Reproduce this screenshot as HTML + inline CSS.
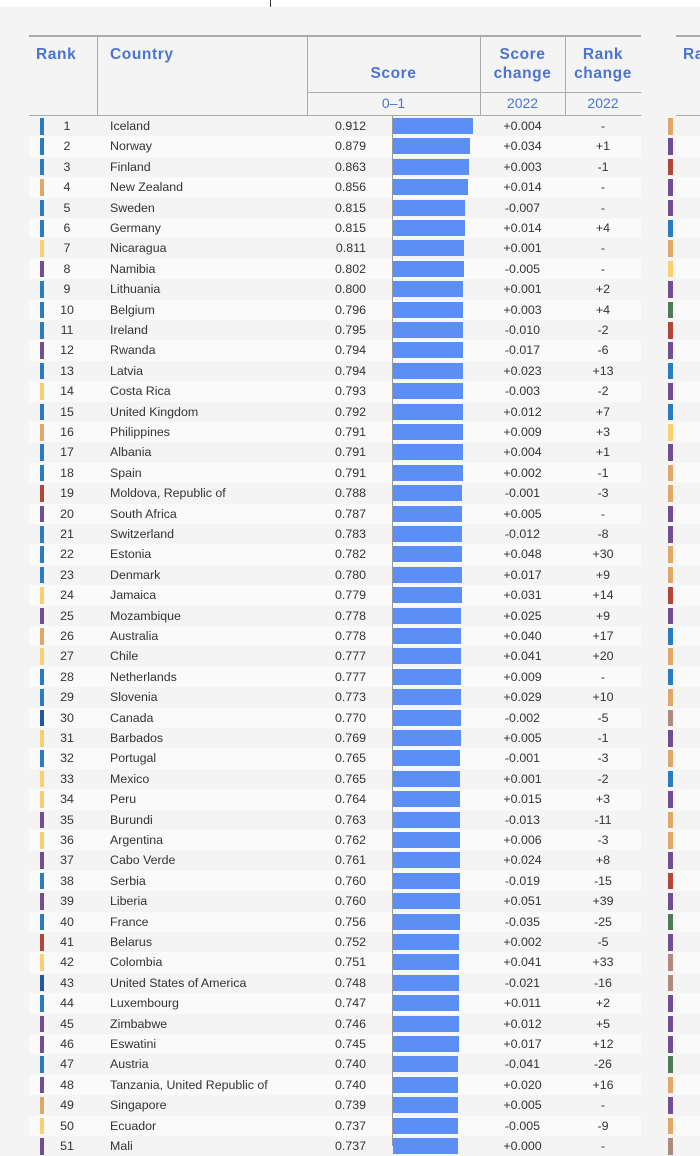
<!DOCTYPE html>
<html><head><meta charset="utf-8"><style>
body{margin:0;width:700px;height:1142px;overflow:hidden;background:#f4f4f4;font-family:"Liberation Sans",Arial,sans-serif;position:relative}
.top{position:absolute;left:0;top:0;width:700px;height:7px;background:#fff}
.tick{position:absolute;left:270px;top:0;width:1px;height:7px;background:#333}
.h{position:absolute;color:#4a74d0;font-weight:bold;font-size:15.5px;letter-spacing:.6px;line-height:19px;text-align:center}
.sh{position:absolute;color:#4a74d0;font-size:14px;top:95px;text-align:center}
.ln{position:absolute;background:#aaa}
.r{position:absolute;left:29px;width:612px;height:20.4px;font-size:12.4px;color:#333;line-height:20.4px}
.r:nth-child(even){background:#fafafa}
.r:nth-child(even)::after{content:"";position:absolute;left:647px;top:0;width:30px;height:20.4px;background:#fafafa}
.r .c{position:absolute;left:11px;top:2px;width:4px;height:16.5px}
.r .n{position:absolute;left:18px;width:40px;text-align:center}
.r .t{position:absolute;left:81px}
.r .s{position:absolute;right:275px}
.r .b{position:absolute;left:364px;top:2px;height:16px;background:#5b8ff5}
.r .d{position:absolute;left:451px;width:85px;text-align:center}
.r .k{position:absolute;left:536px;width:76px;text-align:center}
.r .x{position:absolute;left:639px;top:2px;width:5px;height:16.5px}
.axis{position:absolute;left:392px;top:116px;width:1px;height:1030px;background:#999}
</style></head><body>
<div class="top"></div><div class="tick"></div>
<div id="rows">
<div class="r" style="top:116px"><span class="c" style="background:#2a7bbf"></span><span class="n">1</span><span class="t">Iceland</span><span class="s">0.912</span><span class="b" style="width:calc(.912*88px)"></span><span class="d">+0.004</span><span class="k">-</span><span class="x" style="background:#e0a866"></span></div>
<div class="r" style="top:136.4px"><span class="c" style="background:#2a7bbf"></span><span class="n">2</span><span class="t">Norway</span><span class="s">0.879</span><span class="b" style="width:calc(.879*88px)"></span><span class="d">+0.034</span><span class="k">+1</span><span class="x" style="background:#6f4f8f"></span></div>
<div class="r" style="top:156.8px"><span class="c" style="background:#2a7bbf"></span><span class="n">3</span><span class="t">Finland</span><span class="s">0.863</span><span class="b" style="width:calc(.863*88px)"></span><span class="d">+0.003</span><span class="k">-1</span><span class="x" style="background:#b0473a"></span></div>
<div class="r" style="top:177.2px"><span class="c" style="background:#e0a866"></span><span class="n">4</span><span class="t">New Zealand</span><span class="s">0.856</span><span class="b" style="width:calc(.856*88px)"></span><span class="d">+0.014</span><span class="k">-</span><span class="x" style="background:#6f4f8f"></span></div>
<div class="r" style="top:197.6px"><span class="c" style="background:#2a7bbf"></span><span class="n">5</span><span class="t">Sweden</span><span class="s">0.815</span><span class="b" style="width:calc(.815*88px)"></span><span class="d">-0.007</span><span class="k">-</span><span class="x" style="background:#6f4f8f"></span></div>
<div class="r" style="top:218px"><span class="c" style="background:#2a7bbf"></span><span class="n">6</span><span class="t">Germany</span><span class="s">0.815</span><span class="b" style="width:calc(.815*88px)"></span><span class="d">+0.014</span><span class="k">+4</span><span class="x" style="background:#2a7bbf"></span></div>
<div class="r" style="top:238.4px"><span class="c" style="background:#f7d070"></span><span class="n">7</span><span class="t">Nicaragua</span><span class="s">0.811</span><span class="b" style="width:calc(.811*88px)"></span><span class="d">+0.001</span><span class="k">-</span><span class="x" style="background:#e0a866"></span></div>
<div class="r" style="top:258.8px"><span class="c" style="background:#6f4f8f"></span><span class="n">8</span><span class="t">Namibia</span><span class="s">0.802</span><span class="b" style="width:calc(.802*88px)"></span><span class="d">-0.005</span><span class="k">-</span><span class="x" style="background:#f7d070"></span></div>
<div class="r" style="top:279.2px"><span class="c" style="background:#2a7bbf"></span><span class="n">9</span><span class="t">Lithuania</span><span class="s">0.800</span><span class="b" style="width:calc(.800*88px)"></span><span class="d">+0.001</span><span class="k">+2</span><span class="x" style="background:#6f4f8f"></span></div>
<div class="r" style="top:299.6px"><span class="c" style="background:#2a7bbf"></span><span class="n">10</span><span class="t">Belgium</span><span class="s">0.796</span><span class="b" style="width:calc(.796*88px)"></span><span class="d">+0.003</span><span class="k">+4</span><span class="x" style="background:#4f7a5a"></span></div>
<div class="r" style="top:320px"><span class="c" style="background:#2a7bbf"></span><span class="n">11</span><span class="t">Ireland</span><span class="s">0.795</span><span class="b" style="width:calc(.795*88px)"></span><span class="d">-0.010</span><span class="k">-2</span><span class="x" style="background:#b0473a"></span></div>
<div class="r" style="top:340.4px"><span class="c" style="background:#6f4f8f"></span><span class="n">12</span><span class="t">Rwanda</span><span class="s">0.794</span><span class="b" style="width:calc(.794*88px)"></span><span class="d">-0.017</span><span class="k">-6</span><span class="x" style="background:#6f4f8f"></span></div>
<div class="r" style="top:360.8px"><span class="c" style="background:#2a7bbf"></span><span class="n">13</span><span class="t">Latvia</span><span class="s">0.794</span><span class="b" style="width:calc(.794*88px)"></span><span class="d">+0.023</span><span class="k">+13</span><span class="x" style="background:#2a7bbf"></span></div>
<div class="r" style="top:381.2px"><span class="c" style="background:#f7d070"></span><span class="n">14</span><span class="t">Costa Rica</span><span class="s">0.793</span><span class="b" style="width:calc(.793*88px)"></span><span class="d">-0.003</span><span class="k">-2</span><span class="x" style="background:#6f4f8f"></span></div>
<div class="r" style="top:401.6px"><span class="c" style="background:#2a7bbf"></span><span class="n">15</span><span class="t">United Kingdom</span><span class="s">0.792</span><span class="b" style="width:calc(.792*88px)"></span><span class="d">+0.012</span><span class="k">+7</span><span class="x" style="background:#2a7bbf"></span></div>
<div class="r" style="top:422px"><span class="c" style="background:#e0a866"></span><span class="n">16</span><span class="t">Philippines</span><span class="s">0.791</span><span class="b" style="width:calc(.791*88px)"></span><span class="d">+0.009</span><span class="k">+3</span><span class="x" style="background:#f7d070"></span></div>
<div class="r" style="top:442.4px"><span class="c" style="background:#2a7bbf"></span><span class="n">17</span><span class="t">Albania</span><span class="s">0.791</span><span class="b" style="width:calc(.791*88px)"></span><span class="d">+0.004</span><span class="k">+1</span><span class="x" style="background:#6f4f8f"></span></div>
<div class="r" style="top:462.8px"><span class="c" style="background:#2a7bbf"></span><span class="n">18</span><span class="t">Spain</span><span class="s">0.791</span><span class="b" style="width:calc(.791*88px)"></span><span class="d">+0.002</span><span class="k">-1</span><span class="x" style="background:#e0a866"></span></div>
<div class="r" style="top:483.2px"><span class="c" style="background:#b0473a"></span><span class="n">19</span><span class="t">Moldova, Republic of</span><span class="s">0.788</span><span class="b" style="width:calc(.788*88px)"></span><span class="d">-0.001</span><span class="k">-3</span><span class="x" style="background:#e0a866"></span></div>
<div class="r" style="top:503.6px"><span class="c" style="background:#6f4f8f"></span><span class="n">20</span><span class="t">South Africa</span><span class="s">0.787</span><span class="b" style="width:calc(.787*88px)"></span><span class="d">+0.005</span><span class="k">-</span><span class="x" style="background:#6f4f8f"></span></div>
<div class="r" style="top:524px"><span class="c" style="background:#2a7bbf"></span><span class="n">21</span><span class="t">Switzerland</span><span class="s">0.783</span><span class="b" style="width:calc(.783*88px)"></span><span class="d">-0.012</span><span class="k">-8</span><span class="x" style="background:#6f4f8f"></span></div>
<div class="r" style="top:544.4px"><span class="c" style="background:#2a7bbf"></span><span class="n">22</span><span class="t">Estonia</span><span class="s">0.782</span><span class="b" style="width:calc(.782*88px)"></span><span class="d">+0.048</span><span class="k">+30</span><span class="x" style="background:#e0a866"></span></div>
<div class="r" style="top:564.8px"><span class="c" style="background:#2a7bbf"></span><span class="n">23</span><span class="t">Denmark</span><span class="s">0.780</span><span class="b" style="width:calc(.780*88px)"></span><span class="d">+0.017</span><span class="k">+9</span><span class="x" style="background:#e0a866"></span></div>
<div class="r" style="top:585.2px"><span class="c" style="background:#f7d070"></span><span class="n">24</span><span class="t">Jamaica</span><span class="s">0.779</span><span class="b" style="width:calc(.779*88px)"></span><span class="d">+0.031</span><span class="k">+14</span><span class="x" style="background:#b0473a"></span></div>
<div class="r" style="top:605.6px"><span class="c" style="background:#6f4f8f"></span><span class="n">25</span><span class="t">Mozambique</span><span class="s">0.778</span><span class="b" style="width:calc(.778*88px)"></span><span class="d">+0.025</span><span class="k">+9</span><span class="x" style="background:#6f4f8f"></span></div>
<div class="r" style="top:626px"><span class="c" style="background:#e0a866"></span><span class="n">26</span><span class="t">Australia</span><span class="s">0.778</span><span class="b" style="width:calc(.778*88px)"></span><span class="d">+0.040</span><span class="k">+17</span><span class="x" style="background:#2a7bbf"></span></div>
<div class="r" style="top:646.4px"><span class="c" style="background:#f7d070"></span><span class="n">27</span><span class="t">Chile</span><span class="s">0.777</span><span class="b" style="width:calc(.777*88px)"></span><span class="d">+0.041</span><span class="k">+20</span><span class="x" style="background:#e0a866"></span></div>
<div class="r" style="top:666.8px"><span class="c" style="background:#2a7bbf"></span><span class="n">28</span><span class="t">Netherlands</span><span class="s">0.777</span><span class="b" style="width:calc(.777*88px)"></span><span class="d">+0.009</span><span class="k">-</span><span class="x" style="background:#2a7bbf"></span></div>
<div class="r" style="top:687.2px"><span class="c" style="background:#2a7bbf"></span><span class="n">29</span><span class="t">Slovenia</span><span class="s">0.773</span><span class="b" style="width:calc(.773*88px)"></span><span class="d">+0.029</span><span class="k">+10</span><span class="x" style="background:#e0a866"></span></div>
<div class="r" style="top:707.6px"><span class="c" style="background:#1f5aa0"></span><span class="n">30</span><span class="t">Canada</span><span class="s">0.770</span><span class="b" style="width:calc(.770*88px)"></span><span class="d">-0.002</span><span class="k">-5</span><span class="x" style="background:#b08a80"></span></div>
<div class="r" style="top:728px"><span class="c" style="background:#f7d070"></span><span class="n">31</span><span class="t">Barbados</span><span class="s">0.769</span><span class="b" style="width:calc(.769*88px)"></span><span class="d">+0.005</span><span class="k">-1</span><span class="x" style="background:#6f4f8f"></span></div>
<div class="r" style="top:748.4px"><span class="c" style="background:#2a7bbf"></span><span class="n">32</span><span class="t">Portugal</span><span class="s">0.765</span><span class="b" style="width:calc(.765*88px)"></span><span class="d">-0.001</span><span class="k">-3</span><span class="x" style="background:#e0a866"></span></div>
<div class="r" style="top:768.8px"><span class="c" style="background:#f7d070"></span><span class="n">33</span><span class="t">Mexico</span><span class="s">0.765</span><span class="b" style="width:calc(.765*88px)"></span><span class="d">+0.001</span><span class="k">-2</span><span class="x" style="background:#2a7bbf"></span></div>
<div class="r" style="top:789.2px"><span class="c" style="background:#f7d070"></span><span class="n">34</span><span class="t">Peru</span><span class="s">0.764</span><span class="b" style="width:calc(.764*88px)"></span><span class="d">+0.015</span><span class="k">+3</span><span class="x" style="background:#6f4f8f"></span></div>
<div class="r" style="top:809.6px"><span class="c" style="background:#6f4f8f"></span><span class="n">35</span><span class="t">Burundi</span><span class="s">0.763</span><span class="b" style="width:calc(.763*88px)"></span><span class="d">-0.013</span><span class="k">-11</span><span class="x" style="background:#e0a866"></span></div>
<div class="r" style="top:830px"><span class="c" style="background:#f7d070"></span><span class="n">36</span><span class="t">Argentina</span><span class="s">0.762</span><span class="b" style="width:calc(.762*88px)"></span><span class="d">+0.006</span><span class="k">-3</span><span class="x" style="background:#e0a866"></span></div>
<div class="r" style="top:850.4px"><span class="c" style="background:#6f4f8f"></span><span class="n">37</span><span class="t">Cabo Verde</span><span class="s">0.761</span><span class="b" style="width:calc(.761*88px)"></span><span class="d">+0.024</span><span class="k">+8</span><span class="x" style="background:#6f4f8f"></span></div>
<div class="r" style="top:870.8px"><span class="c" style="background:#2a7bbf"></span><span class="n">38</span><span class="t">Serbia</span><span class="s">0.760</span><span class="b" style="width:calc(.760*88px)"></span><span class="d">-0.019</span><span class="k">-15</span><span class="x" style="background:#b0473a"></span></div>
<div class="r" style="top:891.2px"><span class="c" style="background:#6f4f8f"></span><span class="n">39</span><span class="t">Liberia</span><span class="s">0.760</span><span class="b" style="width:calc(.760*88px)"></span><span class="d">+0.051</span><span class="k">+39</span><span class="x" style="background:#6f4f8f"></span></div>
<div class="r" style="top:911.6px"><span class="c" style="background:#2a7bbf"></span><span class="n">40</span><span class="t">France</span><span class="s">0.756</span><span class="b" style="width:calc(.756*88px)"></span><span class="d">-0.035</span><span class="k">-25</span><span class="x" style="background:#4f7a5a"></span></div>
<div class="r" style="top:932px"><span class="c" style="background:#b0473a"></span><span class="n">41</span><span class="t">Belarus</span><span class="s">0.752</span><span class="b" style="width:calc(.752*88px)"></span><span class="d">+0.002</span><span class="k">-5</span><span class="x" style="background:#6f4f8f"></span></div>
<div class="r" style="top:952.4px"><span class="c" style="background:#f7d070"></span><span class="n">42</span><span class="t">Colombia</span><span class="s">0.751</span><span class="b" style="width:calc(.751*88px)"></span><span class="d">+0.041</span><span class="k">+33</span><span class="x" style="background:#b08a80"></span></div>
<div class="r" style="top:972.8px"><span class="c" style="background:#1f5aa0"></span><span class="n">43</span><span class="t">United States of America</span><span class="s">0.748</span><span class="b" style="width:calc(.748*88px)"></span><span class="d">-0.021</span><span class="k">-16</span><span class="x" style="background:#b08a80"></span></div>
<div class="r" style="top:993.2px"><span class="c" style="background:#2a7bbf"></span><span class="n">44</span><span class="t">Luxembourg</span><span class="s">0.747</span><span class="b" style="width:calc(.747*88px)"></span><span class="d">+0.011</span><span class="k">+2</span><span class="x" style="background:#6f4f8f"></span></div>
<div class="r" style="top:1013.6px"><span class="c" style="background:#6f4f8f"></span><span class="n">45</span><span class="t">Zimbabwe</span><span class="s">0.746</span><span class="b" style="width:calc(.746*88px)"></span><span class="d">+0.012</span><span class="k">+5</span><span class="x" style="background:#6f4f8f"></span></div>
<div class="r" style="top:1034px"><span class="c" style="background:#6f4f8f"></span><span class="n">46</span><span class="t">Eswatini</span><span class="s">0.745</span><span class="b" style="width:calc(.745*88px)"></span><span class="d">+0.017</span><span class="k">+12</span><span class="x" style="background:#6f4f8f"></span></div>
<div class="r" style="top:1054.4px"><span class="c" style="background:#2a7bbf"></span><span class="n">47</span><span class="t">Austria</span><span class="s">0.740</span><span class="b" style="width:calc(.740*88px)"></span><span class="d">-0.041</span><span class="k">-26</span><span class="x" style="background:#4f7a5a"></span></div>
<div class="r" style="top:1074.8px"><span class="c" style="background:#6f4f8f"></span><span class="n">48</span><span class="t">Tanzania, United Republic of</span><span class="s">0.740</span><span class="b" style="width:calc(.740*88px)"></span><span class="d">+0.020</span><span class="k">+16</span><span class="x" style="background:#e0a866"></span></div>
<div class="r" style="top:1095.2px"><span class="c" style="background:#e0a866"></span><span class="n">49</span><span class="t">Singapore</span><span class="s">0.739</span><span class="b" style="width:calc(.739*88px)"></span><span class="d">+0.005</span><span class="k">-</span><span class="x" style="background:#6f4f8f"></span></div>
<div class="r" style="top:1115.6px"><span class="c" style="background:#f7d070"></span><span class="n">50</span><span class="t">Ecuador</span><span class="s">0.737</span><span class="b" style="width:calc(.737*88px)"></span><span class="d">-0.005</span><span class="k">-9</span><span class="x" style="background:#e0a866"></span></div>
<div class="r" style="top:1136px"><span class="c" style="background:#6f4f8f"></span><span class="n">51</span><span class="t">Mali</span><span class="s">0.737</span><span class="b" style="width:calc(.737*88px)"></span><span class="d">+0.000</span><span class="k">-</span><span class="x" style="background:#b08a80"></span></div>
</div>
<div class="axis"></div>
<div class="ln" style="left:29px;top:35px;width:612px;height:1.5px"></div>
<div class="ln" style="left:676px;top:35px;width:24px;height:1.5px"></div>
<div class="ln" style="left:29px;top:115px;width:612px;height:1px"></div>
<div class="ln" style="left:676px;top:115px;width:24px;height:1px"></div>
<div class="ln" style="left:307px;top:92px;width:334px;height:1px"></div>
<div class="ln" style="left:97px;top:35px;width:1px;height:81px"></div>
<div class="ln" style="left:307px;top:35px;width:1px;height:81px"></div>
<div class="ln" style="left:480px;top:35px;width:1px;height:81px"></div>
<div class="ln" style="left:565px;top:35px;width:1px;height:81px"></div>
<div class="h" style="left:36px;top:45px">Rank</div>
<div class="h" style="left:110px;top:45px">Country</div>
<div class="h" style="left:307px;width:173px;top:64px">Score</div>
<div class="h" style="left:480px;width:85px;top:45px">Score<br>change</div>
<div class="h" style="left:565px;width:76px;top:45px">Rank<br>change</div>
<div class="h" style="left:683px;top:45px">Ra</div>
<div class="sh" style="left:307px;width:173px">0–1</div>
<div class="sh" style="left:480px;width:85px">2022</div>
<div class="sh" style="left:565px;width:76px">2022</div>
</body></html>
